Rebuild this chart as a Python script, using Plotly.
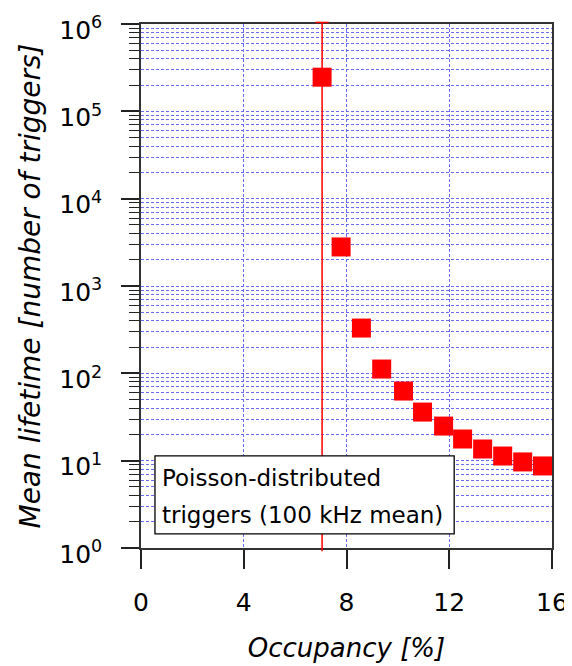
import plotly.graph_objects as go

occupancy = [7.05, 7.79, 8.58, 9.37, 10.22, 10.96, 11.78, 12.52, 13.30, 14.08, 14.86, 15.63]
lifetime = [2.46e5, 2.8e3, 330, 112, 62.7, 36, 24.9, 17.7, 13.6, 11.3, 9.67, 8.7]
limit_x = 7.05

x_ticks = [0, 4, 8, 12, 16]
y_ticks = [1, 10, 100, 1e3, 1e4, 1e5, 1e6]
y_ticktext = ["10<sup>%d</sup>" % i for i in range(7)]
y_minor = [m * 10 ** k for k in range(6) for m in range(2, 10)]
note_lines = ["Poisson-distributed", "triggers (100 kHz mean)"]

FONT = "DejaVu Sans"
GRID = "#6b6bef"

fig = go.Figure()
fig.add_trace(go.Scatter(
    x=occupancy, y=lifetime, mode="markers",
    marker=dict(symbol="square", size=19, color="#ff0000", line=dict(width=0)),
    cliponaxis=False, showlegend=False,
))

# vertical limit line (error bar-like) at the first point
fig.add_shape(type="line", xref="x", yref="paper", x0=limit_x, x1=limit_x,
              y0=-0.006, y1=1.003, line=dict(color="#ff0000", width=1.5))
fig.add_shape(type="line", xref="x", yref="paper", x0=limit_x - 0.26, x1=limit_x + 0.26,
              y0=1.003, y1=1.003, line=dict(color="#ff0000", width=1.5))

# note box
fig.add_shape(type="rect", xref="paper", yref="paper", x0=0.034, x1=0.762, y0=0.027, y1=0.176,
              line=dict(color="black", width=1.3), fillcolor="white", layer="above")
for txt, yy in zip(note_lines, [0.134, 0.063]):
    fig.add_annotation(
        xref="paper", yref="paper", x=0.047, y=yy, xanchor="left", yanchor="middle",
        text=txt, showarrow=False, font=dict(family=FONT, size=23, color="black"),
    )

fig.update_layout(
    width=564, height=658,
    margin=dict(l=133, r=20, t=16, b=118),
    paper_bgcolor="white", plot_bgcolor="white",
    font=dict(family=FONT, size=24, color="black"),
    xaxis=dict(
        range=[0, 16], tickvals=x_ticks, ticks="outside", ticklen=19, tickwidth=1.5,
        tickcolor="#222", showline=True, linecolor="#333", linewidth=1.5, mirror=True,
        showgrid=True, gridcolor=GRID, griddash="3px,2px", gridwidth=1, zeroline=False,
        tickfont=dict(size=25), ticklabelstandoff=12, automargin=False,
        ticklabeloverflow="allow",
        title=dict(text="<i>Occupancy [%]</i>", font=dict(size=26), standoff=23),
    ),
    yaxis=dict(
        type="log", range=[0, 6], tickvals=y_ticks, ticktext=y_ticktext,
        ticks="outside", ticklen=18, tickwidth=1.5, tickcolor="#222",
        showline=True, linecolor="#333", linewidth=1.5, mirror=True,
        showgrid=True, gridcolor=GRID, griddash="3px,2px", gridwidth=1, zeroline=False,
        tickfont=dict(size=25), ticklabelstandoff=14, ticklabelshift=6, automargin=False,
        ticklabeloverflow="allow",
        minor=dict(tickvals=y_minor, ticks="outside", ticklen=10, tickwidth=1.2,
                   tickcolor="#222", showgrid=True, gridcolor=GRID,
                   griddash="3px,2px", gridwidth=1),
        title=dict(text="<i>Mean lifetime [number of triggers]</i>", font=dict(size=28), standoff=10),
    ),
)

fig.write_html("out.html")
